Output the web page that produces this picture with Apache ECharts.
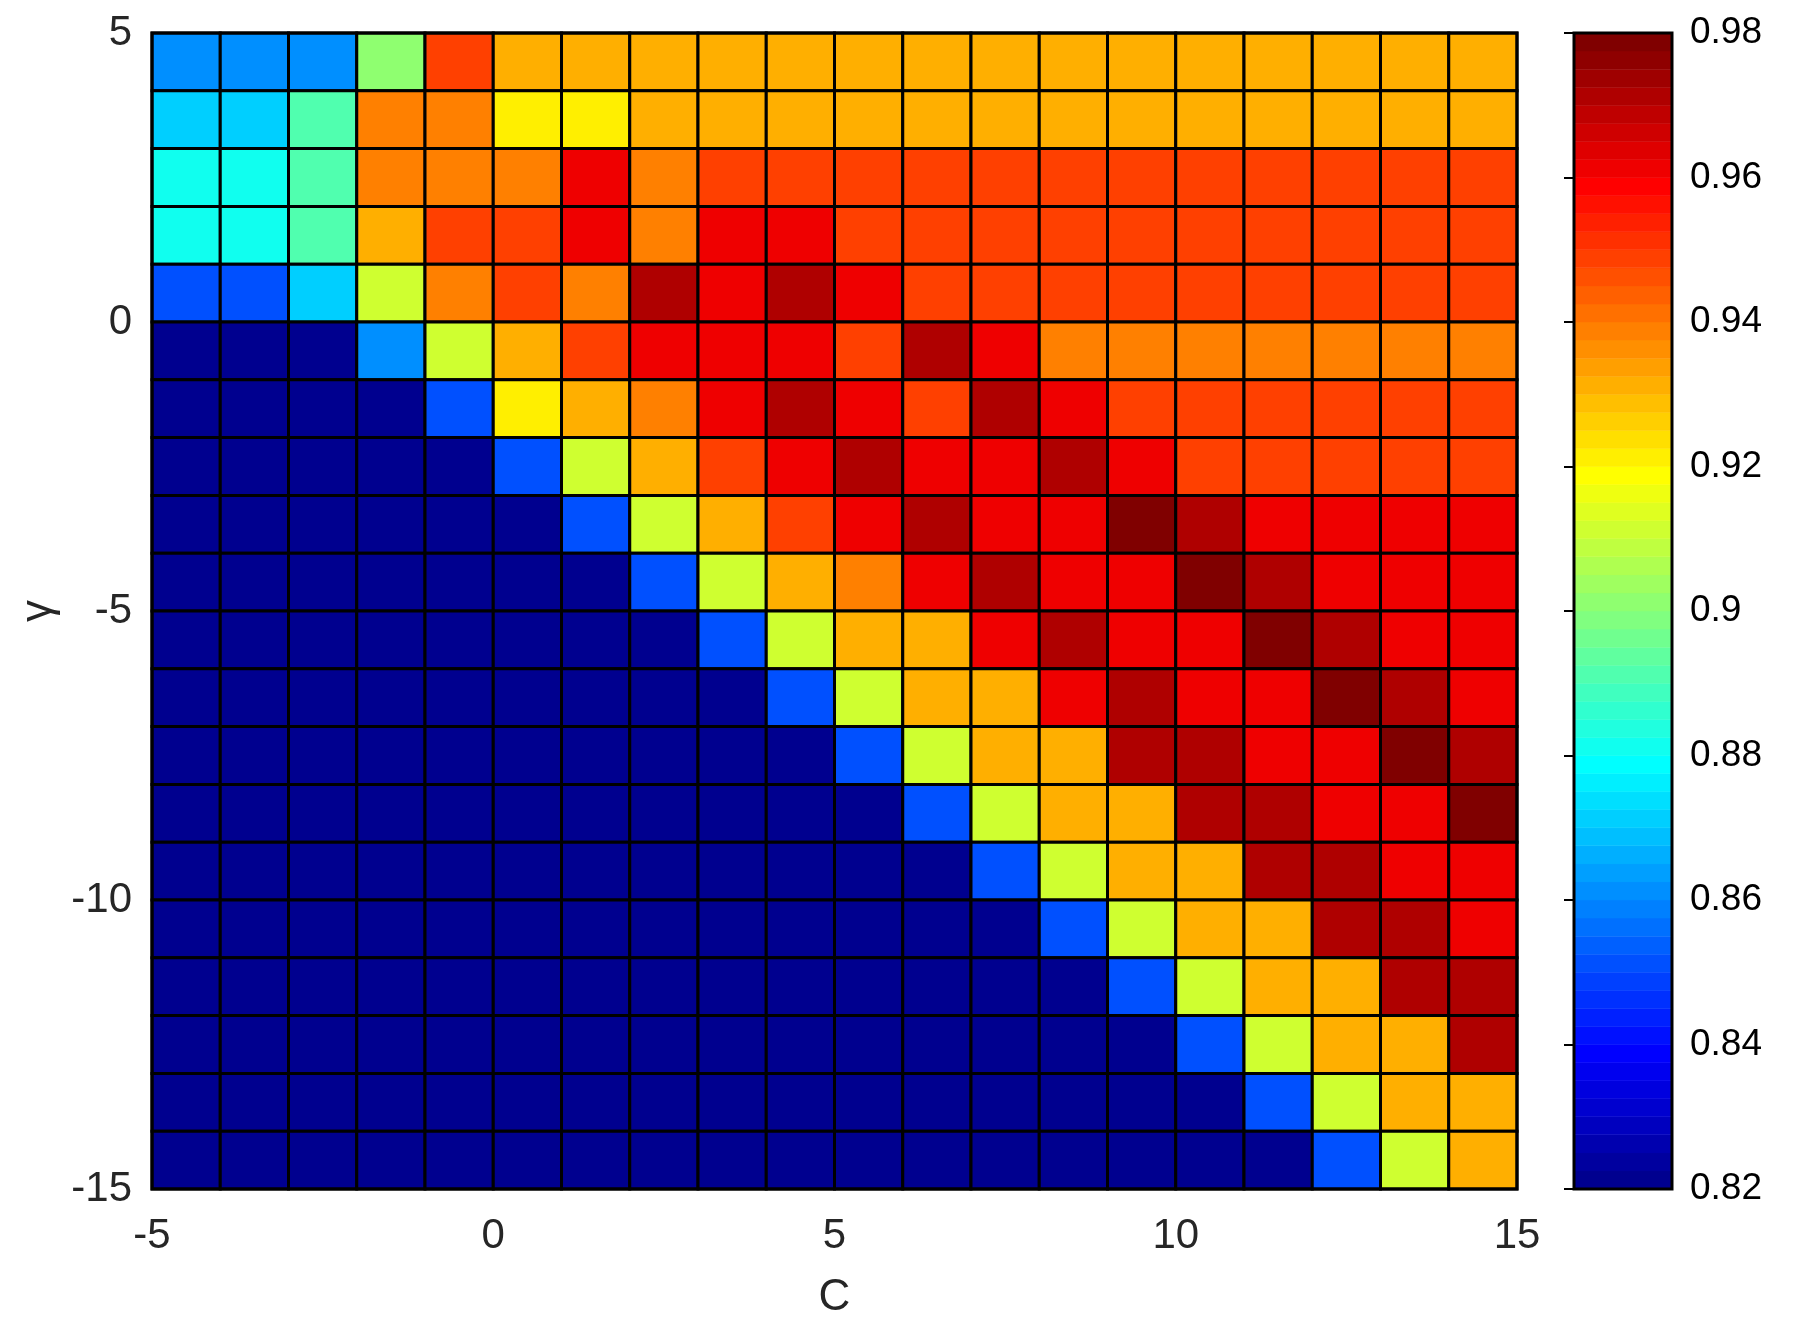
<!DOCTYPE html>
<html>
<head>
<meta charset="utf-8">
<script src="https://cdn.jsdelivr.net/npm/echarts@6/dist/echarts.min.js"></script>
<style>
  html, body { margin: 0; padding: 0; background: #fff; }
  #chart { width: 1794px; height: 1335px; }
</style>
</head>
<body>
<div id="chart"></div>
<script>
// left edge of every cell along C, bottom edge of every row along gamma (top row first)
const cEdges = [-5, -4, -3, -2, -1, 0, 1, 2, 3, 4, 5, 6, 7, 8, 9, 10, 11, 12, 13, 14]
const gammaEdges = [4, 3, 2, 1, 0, -1, -2, -3, -4, -5, -6, -7, -8, -9, -10, -11, -12, -13, -14, -15]

// accuracy, one row per gamma (top row first)
const accuracy = [
    [0.8612, 0.8612, 0.8612, 0.9012, 0.9487, 0.9312, 0.9312, 0.9312, 0.9312, 0.9312, 0.9312, 0.9312, 0.9312, 0.9312, 0.9312, 0.9312, 0.9312, 0.9312, 0.9312, 0.9312],
    [0.8712, 0.8712, 0.8912, 0.9387, 0.9387, 0.9212, 0.9212, 0.9312, 0.9312, 0.9312, 0.9312, 0.9312, 0.9312, 0.9312, 0.9312, 0.9312, 0.9312, 0.9312, 0.9312, 0.9312],
    [0.8812, 0.8812, 0.8912, 0.9387, 0.9387, 0.9387, 0.9612, 0.9387, 0.9487, 0.9487, 0.9487, 0.9487, 0.9487, 0.9487, 0.9487, 0.9487, 0.9487, 0.9487, 0.9487, 0.9487],
    [0.8812, 0.8812, 0.8912, 0.9312, 0.9487, 0.9487, 0.9612, 0.9387, 0.9612, 0.9612, 0.9487, 0.9487, 0.9487, 0.9487, 0.9487, 0.9487, 0.9487, 0.9487, 0.9487, 0.9487],
    [0.8512, 0.8512, 0.8712, 0.9112, 0.9387, 0.9487, 0.9387, 0.9712, 0.9612, 0.9712, 0.9612, 0.9487, 0.9487, 0.9487, 0.9487, 0.9487, 0.9487, 0.9487, 0.9487, 0.9487],
    [0.82, 0.82, 0.82, 0.8612, 0.9112, 0.9312, 0.9487, 0.9612, 0.9612, 0.9612, 0.9487, 0.9712, 0.9612, 0.9387, 0.9387, 0.9387, 0.9387, 0.9387, 0.9387, 0.9387],
    [0.82, 0.82, 0.82, 0.82, 0.8512, 0.9212, 0.9312, 0.9387, 0.9612, 0.9712, 0.9612, 0.9487, 0.9712, 0.9612, 0.9487, 0.9487, 0.9487, 0.9487, 0.9487, 0.9487],
    [0.82, 0.82, 0.82, 0.82, 0.82, 0.8512, 0.9112, 0.9312, 0.9487, 0.9612, 0.9712, 0.9612, 0.9612, 0.9712, 0.9612, 0.9487, 0.9487, 0.9487, 0.9487, 0.9487],
    [0.82, 0.82, 0.82, 0.82, 0.82, 0.82, 0.8512, 0.9112, 0.9312, 0.9487, 0.9612, 0.9712, 0.9612, 0.9612, 0.9788, 0.9712, 0.9612, 0.9612, 0.9612, 0.9612],
    [0.82, 0.82, 0.82, 0.82, 0.82, 0.82, 0.82, 0.8512, 0.9112, 0.9312, 0.9387, 0.9612, 0.9712, 0.9612, 0.9612, 0.9788, 0.9712, 0.9612, 0.9612, 0.9612],
    [0.82, 0.82, 0.82, 0.82, 0.82, 0.82, 0.82, 0.82, 0.8512, 0.9112, 0.9312, 0.9312, 0.9612, 0.9712, 0.9612, 0.9612, 0.9788, 0.9712, 0.9612, 0.9612],
    [0.82, 0.82, 0.82, 0.82, 0.82, 0.82, 0.82, 0.82, 0.82, 0.8512, 0.9112, 0.9312, 0.9312, 0.9612, 0.9712, 0.9612, 0.9612, 0.9788, 0.9712, 0.9612],
    [0.82, 0.82, 0.82, 0.82, 0.82, 0.82, 0.82, 0.82, 0.82, 0.82, 0.8512, 0.9112, 0.9312, 0.9312, 0.9712, 0.9712, 0.9612, 0.9612, 0.9788, 0.9712],
    [0.82, 0.82, 0.82, 0.82, 0.82, 0.82, 0.82, 0.82, 0.82, 0.82, 0.82, 0.8512, 0.9112, 0.9312, 0.9312, 0.9712, 0.9712, 0.9612, 0.9612, 0.9788],
    [0.82, 0.82, 0.82, 0.82, 0.82, 0.82, 0.82, 0.82, 0.82, 0.82, 0.82, 0.82, 0.8512, 0.9112, 0.9312, 0.9312, 0.9712, 0.9712, 0.9612, 0.9612],
    [0.82, 0.82, 0.82, 0.82, 0.82, 0.82, 0.82, 0.82, 0.82, 0.82, 0.82, 0.82, 0.82, 0.8512, 0.9112, 0.9312, 0.9312, 0.9712, 0.9712, 0.9612],
    [0.82, 0.82, 0.82, 0.82, 0.82, 0.82, 0.82, 0.82, 0.82, 0.82, 0.82, 0.82, 0.82, 0.82, 0.8512, 0.9112, 0.9312, 0.9312, 0.9712, 0.9712],
    [0.82, 0.82, 0.82, 0.82, 0.82, 0.82, 0.82, 0.82, 0.82, 0.82, 0.82, 0.82, 0.82, 0.82, 0.82, 0.8512, 0.9112, 0.9312, 0.9312, 0.9712],
    [0.82, 0.82, 0.82, 0.82, 0.82, 0.82, 0.82, 0.82, 0.82, 0.82, 0.82, 0.82, 0.82, 0.82, 0.82, 0.82, 0.8512, 0.9112, 0.9312, 0.9312],
    [0.82, 0.82, 0.82, 0.82, 0.82, 0.82, 0.82, 0.82, 0.82, 0.82, 0.82, 0.82, 0.82, 0.82, 0.82, 0.82, 0.82, 0.8512, 0.9112, 0.9312]
]

// colour limits and the size of the jet map
const clim = [0.82, 0.98]
const nColors = 64

// matlab jet(64), row k = 1..64
function jetColor (k) {
    const u = i => (i < 1 || i > 47) ? 0 : (i <= 16 ? i / 16 : (i <= 31 ? 1 : (48 - i) / 16))
    const hex = v => Math.round(v * 255).toString(16).padStart(2, '0')
    return '#' + hex(u(k - 24)) + hex(u(k - 8)) + hex(u(k + 8))
}

const step = (clim[1] - clim[0]) / nColors
const pieces = []
const bands = []
for (let k = 1; k <= nColors; k++) {
    const lo = clim[0] + (k - 1) * step
    const hi = clim[0] + k * step
    const piece = { color: jetColor(k) }
    if (k > 1) piece.gte = lo
    if (k < nColors) piece.lt = hi
    pieces.push(piece)
    bands.push([lo, hi, (lo + hi) / 2])
}

const cells = []
accuracy.forEach((row, r) => {
    row.forEach((v, c) => {
        cells.push([cEdges[c], gammaEdges[r], v])
    })
})

const textColor = '#262626'
const font = 'Liberation Sans'

const chart = echarts.init(document.getElementById('chart'))
const option = {
    animation: false,
    backgroundColor: '#fff',
    grid: [
        { left: 152, top: 33, width: 1365, height: 1156, show: true, borderColor: '#000', borderWidth: 3, z: 10 },
        { left: 1574, top: 33, width: 98, height: 1156, show: true, borderColor: '#000', borderWidth: 3, z: 10 }
    ],
    visualMap: {
        type: 'piecewise',
        show: false,
        dimension: 2,
        seriesIndex: [0, 1],
        pieces: pieces
    },
    xAxis: [
        {
            type: 'value',
            gridIndex: 0,
            min: -5,
            max: 15,
            interval: 5,
            name: 'C',
            nameLocation: 'middle',
            nameGap: 87,
            nameTextStyle: { fontFamily: font, fontSize: 44, color: textColor },
            axisLine: { show: false },
            axisTick: { inside: true, length: 10, lineStyle: { color: '#000', width: 2 } },
            axisLabel: { margin: 26, fontFamily: font, fontSize: 42, color: textColor },
            splitLine: { show: false }
        },
        {
            type: 'value',
            gridIndex: 1,
            min: 0,
            max: 1,
            show: false
        }
    ],
    yAxis: [
        {
            type: 'value',
            gridIndex: 0,
            min: -15,
            max: 5,
            interval: 5,
            name: 'γ',
            nameLocation: 'middle',
            nameGap: 89,
            nameTextStyle: { fontFamily: font, fontSize: 44, color: textColor },
            axisLine: { show: false },
            axisTick: { inside: true, length: 10, lineStyle: { color: '#000', width: 2 } },
            axisLabel: { margin: 20, fontFamily: font, fontSize: 42, color: textColor },
            splitLine: { show: false }
        },
        {
            type: 'value',
            gridIndex: 1,
            position: 'right',
            min: clim[0],
            max: clim[1],
            interval: 0.02,
            axisLine: { show: false },
            axisTick: { inside: true, length: 10, lineStyle: { color: '#000', width: 2 } },
            axisLabel: { margin: 18, fontFamily: font, fontSize: 37, color: '#000' },
            splitLine: { show: false }
        }
    ],
    series: [
        {
            type: 'custom',
            xAxisIndex: 0,
            yAxisIndex: 0,
            data: cells,
            encode: { x: 0, y: 1 },
            renderItem: function (params, api) {
                const x0 = api.value(0)
                const y0 = api.value(1)
                const p0 = api.coord([x0, y0 + 1])
                const p1 = api.coord([x0 + 1, y0])
                return {
                    type: 'rect',
                    shape: { x: p0[0], y: p0[1], width: p1[0] - p0[0], height: p1[1] - p0[1] },
                    style: { fill: api.visual('color'), stroke: '#000', lineWidth: 3 }
                }
            }
        },
        {
            type: 'custom',
            xAxisIndex: 1,
            yAxisIndex: 1,
            data: bands,
            encode: { y: [0, 1] },
            renderItem: function (params, api) {
                const p0 = api.coord([0, api.value(1)])
                const p1 = api.coord([1, api.value(0)])
                const color = api.visual('color')
                return {
                    type: 'rect',
                    shape: { x: p0[0], y: p0[1], width: p1[0] - p0[0], height: p1[1] - p0[1] },
                    style: { fill: color, stroke: color, lineWidth: 0.5 }
                }
            }
        }
    ]
}
chart.setOption(option)
</script>
</body>
</html>
